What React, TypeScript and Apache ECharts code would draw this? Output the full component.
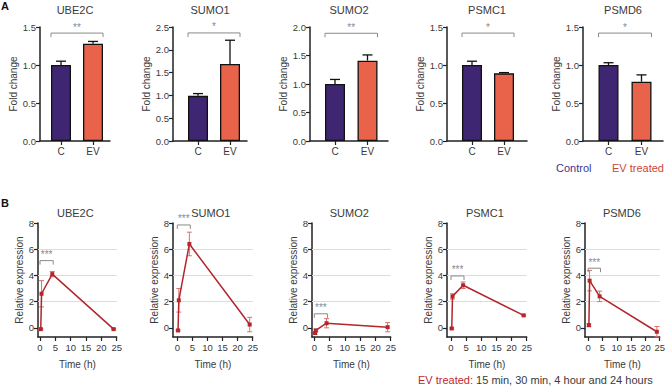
import React, { useEffect, useRef } from "react";
import * as echarts from "echarts";

// ---------- data ----------
const TOP_GENES = ["UBE2C", "SUMO1", "SUMO2", "PSMC1", "PSMD6"];
const BAR_CATS = ["C", "EV"];
const CONTROL_MEAN = [1.0, 0.99, 1.0, 1.0, 1.0];
const CONTROL_SEM = [0.05, 0.05, 0.08, 0.05, 0.03];
const EV_MEAN = [1.28, 1.69, 1.41, 0.89, 0.78];
const EV_SEM = [0.03, 0.52, 0.1, 0.01, 0.09];
const TOP_YMAX = [1.5, 2.5, 2.0, 1.5, 1.5];
const TOP_YSTEP = 0.5;
const TOP_SIG = ["**", "*", "**", "*", "*"];
const TOP_SIG_Y = [1.42, 2.37, 1.89, 1.42, 1.42];

const BOTTOM_GENES = ["UBE2C", "SUMO1", "SUMO2", "PSMC1", "PSMD6"];
const TIME_H = [0.25, 0.5, 4, 24];
const TIME_TICKS = [0, 5, 10, 15, 20, 25];
const REL_TICKS = [0, 2, 4, 6, 8];
const UBE2C_REL = [-0.1, 2.6, 4.1, -0.1];
const UBE2C_ERR = [0.05, 1.0, 0.2, 0.05];
const SUMO1_REL = [-0.2, 2.1, 6.4, 0.25];
const SUMO1_ERR = [0.05, 0.9, 0.9, 0.55];
const SUMO2_REL = [-0.4, -0.2, 0.35, 0.05];
const SUMO2_ERR = [0.1, 0.1, 0.35, 0.35];
const PSMC1_REL = [-0.05, 2.4, 3.25, 0.95];
const PSMC1_ERR = [0.05, 0.2, 0.25, 0.05];
const PSMD6_REL = [0.2, 3.6, 2.4, -0.3];
const PSMD6_ERR = [0.1, 0.78, 0.4, 0.4];
const REL_MEANS = [UBE2C_REL, SUMO1_REL, SUMO2_REL, PSMC1_REL, PSMD6_REL];
const REL_ERRS = [UBE2C_ERR, SUMO1_ERR, SUMO2_ERR, PSMC1_ERR, PSMD6_ERR];
const BOTTOM_SIG = ["***", "***", "***", "***", "***"];
const BOTTOM_SIG_X = [0, 4.3];
const BOTTOM_SIG_Y = [5.13, 7.85, 1.07, 3.96, 4.55];

const LEGEND_LABELS = ["Control", "EV treated"];
const FOOT_LABEL = "EV treated:";
const FOOT_TEXT = " 15 min, 30 min, 4 hour and 24 hours";

// ---------- layout / style ----------
const FONT = "Liberation Sans";
const C_COLOR = "#3f2672";
const EV_COLOR = "#e8634a";
const LINE_RED = "#b3262b";
const ERR_RED = "#d9706c";
const AXIS_COLOR = "#222";
const TEXT_COLOR = "#3a3a3a";
const STAR_COLOR = "#8a8a8a";

const TOP_AXIS_X = [40, 173, 310, 447, 583];
const TOP_C_X = [61, 198, 335, 472, 608.5];
const TOP_EV_X = [93, 230, 367.5, 504, 641.5];
const TOP_END_X = [110, 247, 388, 527, 663];
const TOP_Y0 = 27;
const TOP_H = 114;

const BOT_AXIS_X = [38, 173, 312, 447, 585];
const BOT_ZERO_X = [40, 177.3, 314.3, 451, 588.3];
const BOT_25_X = [116.7, 252.7, 390.7, 526.7, 662.7];
const BOT_Y0 = 223;
const BOT_H = 114;
const BOT_YMIN = -0.7;
const BOT_YMAX = 8;

function buildOption() {
  const grid: any[] = [];
  const xAxis: any[] = [];
  const yAxis: any[] = [];
  const series: any[] = [];
  const graphic: any[] = [];

  const axisLine = { show: true, onZero: false, lineStyle: { color: AXIS_COLOR, width: 1.5 } };
  const axisTick = (vals?: number[]) => ({
    show: true,
    length: 4,
    inside: false,
    ...(vals ? { customValues: vals } : {}),
    lineStyle: { color: AXIS_COLOR, width: 1.2 },
  });

  // ----- top row -----
  for (let i = 0; i < 5; i++) {
    const unit = TOP_EV_X[i] - TOP_C_X[i];
    const xmin = -(TOP_C_X[i] - TOP_AXIS_X[i]) / unit;
    const xmax = (TOP_END_X[i] - TOP_C_X[i]) / unit;
    grid.push({ left: TOP_AXIS_X[i], top: TOP_Y0, width: TOP_END_X[i] - TOP_AXIS_X[i], height: TOP_H });
    xAxis.push({
      type: "value",
      gridIndex: i,
      min: xmin,
      max: xmax,
      axisLine,
      axisTick: axisTick([0, 1]),
      axisLabel: {
        customValues: [0, 1],
        formatter: (v: number) => BAR_CATS[Math.round(v)] ?? "",
        fontSize: 10,
        color: TEXT_COLOR,
        margin: 5,
        fontFamily: FONT,
      },
      splitLine: { show: false },
    });
    yAxis.push({
      type: "value",
      gridIndex: i,
      min: 0,
      max: TOP_YMAX[i],
      interval: TOP_YSTEP,
      name: "Fold change",
      nameLocation: "middle",
      nameGap: 20,
      nameTextStyle: { fontSize: 10, color: TEXT_COLOR, fontFamily: FONT },
      axisLine,
      axisTick: axisTick(),
      axisLabel: { fontSize: 9.5, color: TEXT_COLOR, margin: 4, formatter: (v: number) => v.toFixed(1), fontFamily: FONT },
      splitLine: { show: false },
    });
    series.push({
      type: "bar",
      xAxisIndex: i,
      yAxisIndex: i,
      barWidth: 20,
      z: 2,
      itemStyle: { borderColor: "#111", borderWidth: 1.3 },
      data: [
        { value: [0, CONTROL_MEAN[i]], itemStyle: { color: C_COLOR } },
        { value: [1, EV_MEAN[i]], itemStyle: { color: EV_COLOR } },
      ],
    });
    series.push({
      type: "custom",
      xAxisIndex: i,
      yAxisIndex: i,
      z: 4,
      data: [
        [0, CONTROL_MEAN[i], CONTROL_SEM[i]],
        [1, EV_MEAN[i], EV_SEM[i]],
      ],
      renderItem: (params: any, api: any) => {
        const x = api.value(0), m = api.value(1), e = api.value(2);
        const t = api.coord([x, m + e]);
        const b = api.coord([x, m]);
        const st = { stroke: "#111", lineWidth: 1.3 };
        return {
          type: "group",
          children: [
            { type: "line", shape: { x1: t[0], y1: t[1], x2: b[0], y2: b[1] }, style: st },
            { type: "line", shape: { x1: t[0] - 5, y1: t[1], x2: t[0] + 5, y2: t[1] }, style: st },
          ],
        };
      },
    });
    const sigText = TOP_SIG[i];
    series.push({
      type: "custom",
      xAxisIndex: i,
      yAxisIndex: i,
      z: 4,
      clip: false,
      data: [[0, 1, TOP_SIG_Y[i]]],
      renderItem: (params: any, api: any) => {
        const a = api.coord([api.value(0), api.value(2)]);
        const b = api.coord([api.value(1), api.value(2)]);
        const x1 = a[0] - 10, x2 = b[0] + 10, y = a[1];
        const st = { stroke: STAR_COLOR, lineWidth: 1, fill: null };
        return {
          type: "group",
          children: [
            { type: "polyline", shape: { points: [[x1, y + 4], [x1, y], [x2, y], [x2, y + 4]] }, style: st },
            {
              type: "text",
              x: (x1 + x2) / 2,
              y: y - 1,
              style: { text: sigText, fill: STAR_COLOR, fontSize: 10, align: "center", verticalAlign: "bottom", fontFamily: FONT },
            },
          ],
        };
      },
    });
    graphic.push({
      type: "text",
      x: (TOP_AXIS_X[i] + TOP_END_X[i]) / 2,
      y: 10,
      style: { text: TOP_GENES[i], fontSize: 11, fill: TEXT_COLOR, align: "center", verticalAlign: "middle", fontFamily: FONT },
    });
  }

  // ----- bottom row -----
  for (let i = 0; i < 5; i++) {
    const gi = i + 5;
    const unit = (BOT_25_X[i] - BOT_ZERO_X[i]) / 25;
    const xmin = -(BOT_ZERO_X[i] - BOT_AXIS_X[i]) / unit;
    grid.push({ left: BOT_AXIS_X[i], top: BOT_Y0, width: BOT_25_X[i] - BOT_AXIS_X[i], height: BOT_H });
    xAxis.push({
      type: "value",
      gridIndex: gi,
      min: xmin,
      max: 25,
      name: "Time (h)",
      nameLocation: "middle",
      nameGap: 22,
      nameTextStyle: { fontSize: 10, color: TEXT_COLOR, fontFamily: FONT },
      axisLine,
      axisTick: axisTick(TIME_TICKS),
      axisLabel: { customValues: TIME_TICKS, fontSize: 9.5, color: TEXT_COLOR, margin: 5, fontFamily: FONT },
      splitLine: { show: false },
    });
    yAxis.push({
      type: "value",
      gridIndex: gi,
      min: BOT_YMIN,
      max: BOT_YMAX,
      name: "Relative expression",
      nameLocation: "middle",
      nameGap: 14,
      nameTextStyle: { fontSize: 10, color: TEXT_COLOR, fontFamily: FONT },
      axisLine,
      axisTick: axisTick(REL_TICKS),
      axisLabel: { customValues: REL_TICKS, fontSize: 9.5, color: TEXT_COLOR, margin: 4, fontFamily: FONT },
      splitLine: { show: false },
    });
    const means = REL_MEANS[i];
    const errs = REL_ERRS[i];
    series.push({
      type: "custom",
      xAxisIndex: gi,
      yAxisIndex: gi,
      z: 2,
      data: TIME_H.map((t, k) => [t, means[k], errs[k]]),
      renderItem: (params: any, api: any) => {
        const x = api.value(0), m = api.value(1), e = api.value(2);
        const t = api.coord([x, m + e]);
        const b = api.coord([x, m - e]);
        const st = { stroke: ERR_RED, lineWidth: 1 };
        return {
          type: "group",
          children: [
            { type: "line", shape: { x1: t[0], y1: t[1], x2: b[0], y2: b[1] }, style: st },
            { type: "line", shape: { x1: t[0] - 2.5, y1: t[1], x2: t[0] + 2.5, y2: t[1] }, style: st },
            { type: "line", shape: { x1: b[0] - 2.5, y1: b[1], x2: b[0] + 2.5, y2: b[1] }, style: st },
          ],
        };
      },
    });
    series.push({
      type: "line",
      xAxisIndex: gi,
      yAxisIndex: gi,
      z: 3,
      symbol: "rect",
      symbolSize: 4,
      showSymbol: true,
      color: LINE_RED,
      itemStyle: { color: LINE_RED },
      lineStyle: { color: LINE_RED, width: 1.5 },
      data: TIME_H.map((t, k) => [t, means[k]]),
      markLine: {
        silent: true,
        symbol: "none",
        label: { show: false },
        lineStyle: { color: "#dcdcdc", type: "solid", width: 1 },
        data: REL_TICKS.filter((v) => v > 0 && v < BOT_YMAX).map((v) => ({ yAxis: v })),
        z: 1,
      },
    });
    const sigText = BOTTOM_SIG[i];
    series.push({
      type: "custom",
      xAxisIndex: gi,
      yAxisIndex: gi,
      z: 4,
      clip: false,
      data: [[BOTTOM_SIG_X[0], BOTTOM_SIG_X[1], BOTTOM_SIG_Y[i]]],
      renderItem: (params: any, api: any) => {
        const a = api.coord([api.value(0), api.value(2)]);
        const b = api.coord([api.value(1), api.value(2)]);
        const x1 = a[0], x2 = b[0], y = a[1];
        const st = { stroke: STAR_COLOR, lineWidth: 1, fill: null };
        return {
          type: "group",
          children: [
            { type: "polyline", shape: { points: [[x1, y + 4], [x1, y], [x2, y], [x2, y + 4]] }, style: st },
            {
              type: "text",
              x: (x1 + x2) / 2,
              y: y - 1,
              style: { text: sigText, fill: STAR_COLOR, fontSize: 10, align: "center", verticalAlign: "bottom", fontFamily: FONT },
            },
          ],
        };
      },
    });
    graphic.push({
      type: "text",
      x: (BOT_AXIS_X[i] + BOT_25_X[i]) / 2 - 2,
      y: 213,
      style: { text: BOTTOM_GENES[i], fontSize: 11, fill: TEXT_COLOR, align: "center", verticalAlign: "middle", fontFamily: FONT },
    });
  }

  // panel letters, legend, footnote
  graphic.push({ type: "text", x: 1, y: 0, style: { text: "A", fontSize: 11, fontWeight: "bold", fill: "#111", fontFamily: FONT } });
  graphic.push({ type: "text", x: 1, y: 197, style: { text: "B", fontSize: 11, fontWeight: "bold", fill: "#111", fontFamily: FONT } });
  graphic.push({
    type: "text",
    x: 556,
    y: 168,
    style: { text: LEGEND_LABELS[0], fontSize: 11, fill: "#3d3590", verticalAlign: "middle", fontFamily: FONT },
  });
  graphic.push({
    type: "text",
    x: 612,
    y: 168,
    style: { text: LEGEND_LABELS[1], fontSize: 11, fill: "#cc4539", verticalAlign: "middle", fontFamily: FONT },
  });
  graphic.push({
    type: "text",
    x: 418,
    y: 380,
    style: {
      text: "{r|" + FOOT_LABEL + "}" + FOOT_TEXT,
      fontSize: 11,
      fill: TEXT_COLOR,
      verticalAlign: "middle",
      fontFamily: FONT,
      rich: { r: { fill: "#c0282d", fontSize: 11, fontFamily: FONT } },
    },
  });

  return {
    animation: false,
    backgroundColor: "#ffffff",
    textStyle: { fontFamily: FONT },
    grid,
    xAxis,
    yAxis,
    series,
    graphic,
  };
}

export default function App() {
  const ref = useRef<HTMLDivElement>(null);
  useEffect(() => {
    if (!ref.current) return;
    const chart = echarts.init(ref.current, undefined, { renderer: "svg" });
    chart.setOption(buildOption() as any);
    return () => chart.dispose();
  }, []);
  return <div ref={ref} style={{ width: 668, height: 392, position: "absolute", left: 0, top: 0 }} />;
}
